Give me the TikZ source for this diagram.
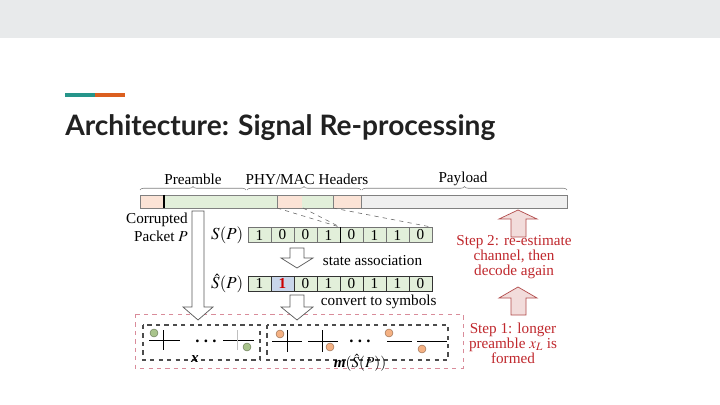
\documentclass[tikz,border=0pt]{standalone}
\usepackage{mathptmx}
\usepackage{fontspec}
\setmainfont{Liberation Serif}
\newfontfamily\titlefont{Lato}
\usetikzlibrary{decorations.pathreplacing}

\definecolor{bandgray}{HTML}{E8EAEB}
\definecolor{accteal}{HTML}{26958A}
\definecolor{accorange}{HTML}{DB5F1F}
\definecolor{titlegray}{HTML}{212121}
\definecolor{pkorange}{HTML}{FBE3D6}
\definecolor{pkgreen}{HTML}{E2EFDA}
\definecolor{pkgray}{HTML}{EFEFEF}
\definecolor{cellblue}{HTML}{C9D6EA}
\definecolor{stepred}{HTML}{C0282D}
\definecolor{boxred}{HTML}{D98C9A}
\definecolor{dotgreen}{HTML}{A9C48C}
\definecolor{dotorange}{HTML}{F4B183}
\definecolor{arrowpink}{HTML}{F2DCDB}

\begin{document}
\begin{tikzpicture}[
    x=0.025cm, y=-0.025cm,
    every node/.style={font=\fontsize{10.8}{12.5}\selectfont},
    bit/.style={draw=gray!90!black, fill=pkgreen, minimum width=0.575cm,
                minimum height=0.375cm, inner sep=0pt},
    hollow/.style={draw=gray!70!black, fill=white, line width=0.5pt},
    pinkarrow/.style={draw=gray!60!red, fill=arrowpink, line width=0.5pt},
    greendot/.style={fill=dotgreen, draw=dotgreen!60!black, line width=0.3pt},
    orangedot/.style={fill=dotorange, draw=dotorange!60!black, line width=0.3pt},
    steptext/.style={text=stepred, align=center, font=\fontsize{10.8}{10.8}\selectfont},
    rowlabel/.style={inner sep=1pt, font=\fontsize{12}{14}\selectfont},
    ellip/.style={inner sep=0pt, anchor=base, font=\fontsize{12}{12}\selectfont\bfseries}
]
\useasboundingbox (0,0) rectangle (720,405);

% Slide background and top band
\fill[white] (0,0) rectangle (720,405);
\fill[bandgray] (0,0) rectangle (720,38);

% Accent bar and title
\fill[accteal] (65,93) rectangle (95,97);
\fill[accorange] (95,93) rectangle (125,97);
\node[anchor=base west, inner sep=0pt, text=titlegray,
      font=\titlefont\bfseries\fontsize{20}{24}\selectfont] (title) at (65,136)
    {Architecture: Signal Re-processing};

% Packet bar
\fill[pkorange] (140,195) rectangle (164,208);
\fill[pkgreen] (164,195) rectangle (277,208);
\fill[pkorange] (277,195) rectangle (302,208);
\fill[pkgreen] (302,195) rectangle (333,208);
\fill[pkorange] (333,195) rectangle (361,208);
\fill[pkgray] (361,195) rectangle (567,208);
\draw[gray] (140,195) rectangle (567,208);
\draw[thick] (164,195) -- (164,208);
\foreach \x in {277, 333, 361} {
    \draw[gray] (\x,195) -- (\x,208);
}

% Braces with field names
\draw[gray, decorate, decoration={brace, amplitude=2.5pt}] (140,190) -- (246,190);
\draw[gray, decorate, decoration={brace, amplitude=2.5pt}] (247,190) -- (361,190);
\draw[gray, decorate, decoration={brace, amplitude=2.5pt}] (362,190) -- (567,190);
\node (pre) at (193,179) {Preamble};
\node (hdr) at (307,179) {PHY/MAC Headers};
\node (pay) at (463,179) {Payload};

% Corrupted packet label
\node[align=right, anchor=north east, inner sep=0pt] (corr) at (188,213)
    {Corrupted\\Packet $P$};

% Bit rows S(P) and S-hat(P)
\foreach \b [count=\i] in {1,0,0,1,0,1,1,0} {
    \node[bit] (s\i) at ({248+23*(\i-0.5)},235) {\b};
}
\draw[thick] (s4.north east) -- (s4.south east);
\node[rowlabel, anchor=east] (sp) at ([xshift=-2pt]s1.west) {$S(P)$};

\foreach \b [count=\i] in {1,1,0,1,0,1,1,0} {
    \node[bit, draw=black!80] (h\i) at ({248+23*(\i-0.5)},283.5) {\b};
}
\node[bit, draw=black!80, fill=cellblue, text=red!80!black,
      font=\fontsize{10.8}{12.5}\selectfont\bfseries] (h2) at (h2) {1};
\node[rowlabel, anchor=east] (shp) at ([xshift=-2pt]h1.west) {$\hat{S}(P)$};

% Header bits expanded into S(P)
\coordinate (hdrA) at (277,208);
\coordinate (hdrB) at (303,208);
\coordinate (hdrC) at (333,208);
\draw[dashed, gray!80!black] (hdrA) -- (s4.north east);
\draw[dashed, gray!80!black] (hdrB) -- (s4.north east);
\draw[dashed, gray!80!black] (hdrC) -- (s8.north east);

% Symbol boxes
\draw[dashed, boxred, line width=0.5pt] (135,314) rectangle (463,368);
\draw[dashed, gray!60!black, line width=1pt] (143,325) rectangle (260,360);
\draw[dashed, gray!60!black, line width=1pt] (267,325) rectangle (448,360);

% Preamble constellation x
\draw (149,340) -- (180,340);
\draw (163,330) -- (163,350);
\draw (223,340) -- (254,340);
\draw[gray!50] (237,330) -- (237,350);
\node[ellip] (dotsA) at (206,342) {.\hspace{3pt}.\hspace{3pt}.};
\filldraw[greendot] (154,333) circle[radius=4];
\filldraw[greendot] (247,347) circle[radius=4];
\node[inner sep=0pt] (xlab) at (195,359) {\textbf{\textit{x}}};

% Header constellation m(S-hat(P))
\draw (272,341) -- (302,341);
\draw (287,330) -- (287,352);
\draw (308,341) -- (338,341);
\draw (322,330) -- (322,352);
\draw (387,341) -- (412,341);
\draw (417,341) -- (447,341);
\node[ellip] (dotsB) at (360,342) {.\hspace{3pt}.\hspace{3pt}.};
\foreach \p in {(280,334), (330,347), (389,333), (422,349)} {
    \filldraw[orangedot] \p circle[radius=4];
}
\node[inner sep=0pt] (mlab) at (360,363) {\textbf{\textit{m}}$(\hat{S}(P))$};

% Hollow down arrows
\draw[hollow] (192,211) -- (204,211) -- (204,307) -- (213,307) -- (198,320)
    -- (183,307) -- (192,307) -- cycle;
\draw[hollow] (290,248) -- (304,248) -- (304,258) -- (313,258) -- (297,268)
    -- (281,258) -- (290,258) -- cycle;
\draw[hollow] (290,295) -- (304,295) -- (304,307) -- (313,307) -- (297,320)
    -- (281,307) -- (290,307) -- cycle;
\node[anchor=west] (assoc) at (318,261) {state association};
\node[anchor=west] (conv) at (316,302) {convert to symbols};

% Re-processing steps
\draw[pinkarrow] (511,237) -- (526,237) -- (526,219) -- (537,219) -- (518,210)
    -- (499,219) -- (511,219) -- cycle;
\draw[pinkarrow] (511,315) -- (526,315) -- (526,298) -- (537,298) -- (518,287)
    -- (499,298) -- (511,298) -- cycle;
\node[steptext] (step2) at (514,257) {Step 2: re-estimate\\channel, then\\decode again};
\node[steptext] (step1) at (513,343) {Step 1: longer\\preamble $x_L$ is\\formed};

\end{tikzpicture}
\end{document}
